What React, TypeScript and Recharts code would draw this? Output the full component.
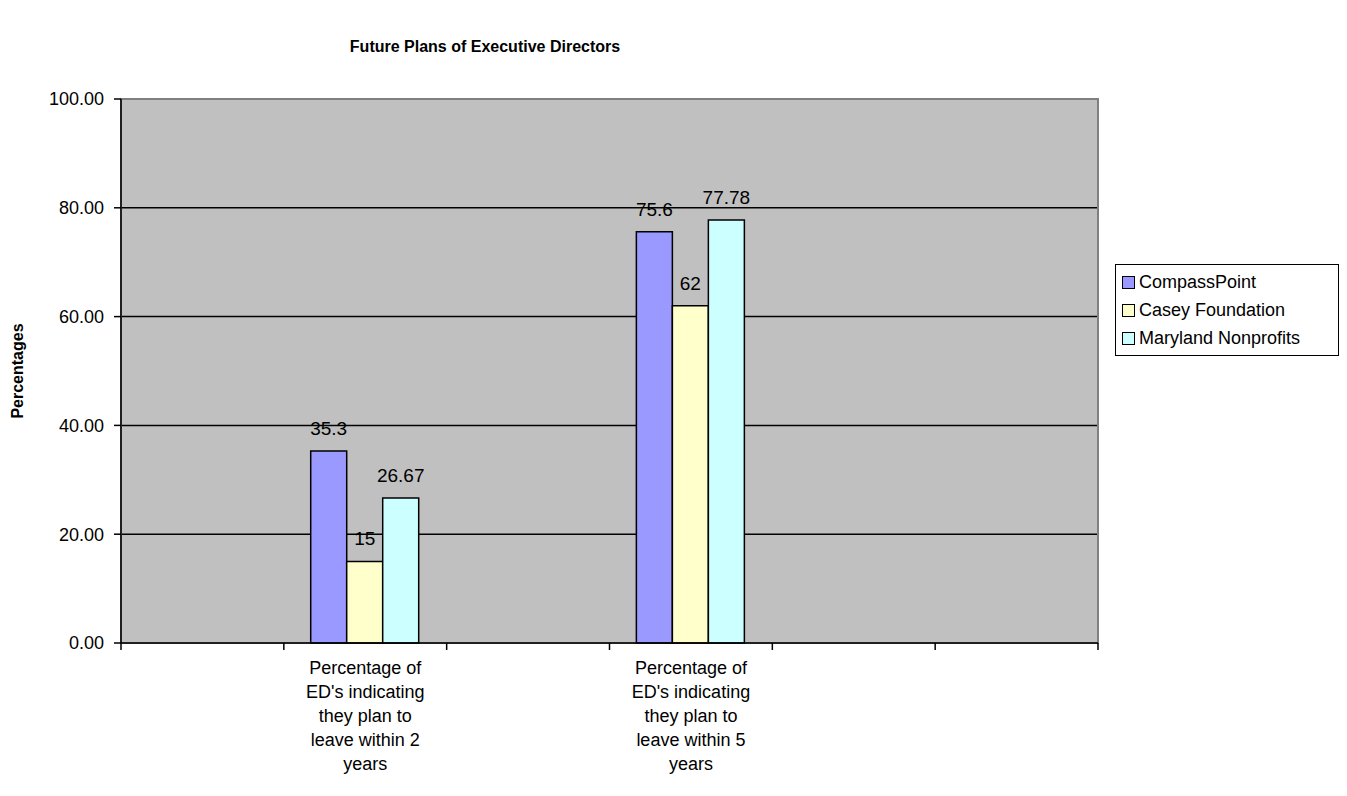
import React from 'react';
import { BarChart, Bar, XAxis, YAxis, CartesianGrid, Legend, LabelList, ReferenceArea } from 'recharts';

const categories = [
  '',
  "Percentage of ED's indicating they plan to leave within 2 years",
  '',
  "Percentage of ED's indicating they plan to leave within 5 years",
  '',
  '',
];
const compassPoint = [null, 35.3, null, 75.6, null, null];
const caseyFoundation = [null, 15, null, 62, null, null];
const marylandNonprofits = [null, 26.67, null, 77.78, null, null];
const seriesNames = ['CompassPoint', 'Casey Foundation', 'Maryland Nonprofits'];
const seriesColors = ['#9999FF', '#FFFFCC', '#CCFFFF'];
const yTicks = [0, 20, 40, 60, 80, 100];

const FONT = '"Liberation Sans", Arial, sans-serif';

const data = categories.map((name, i) => ({
  key: i,
  name,
  cp: compassPoint[i],
  casey: caseyFoundation[i],
  md: marylandNonprofits[i],
}));

// greedy word wrap, excel-ish
function wrap(text: string, max = 15) {
  const words = text.split(' ').filter(Boolean);
  const lines: string[] = [];
  let cur = '';
  for (const w of words) {
    if (!cur) cur = w;
    else if ((cur + ' ' + w).length <= max) cur += ' ' + w;
    else {
      lines.push(cur);
      cur = w;
    }
  }
  if (cur) lines.push(cur);
  return lines;
}

// excel puts the tick marks between categories, so draw them at the band edges
function CategoryTick({ x, y, payload, index, width }: any) {
  const lines = wrap(categories[payload.value] ?? '');
  const half = width / categories.length / 2;
  const isLast = index === categories.length - 1;
  return (
    <g>
      <line x1={x - half} x2={x - half} y1={y} y2={y + 7} stroke="#000" strokeWidth={1.5} />
      {isLast && <line x1={x + half} x2={x + half} y1={y} y2={y + 7} stroke="#000" strokeWidth={1.5} />}
      <text x={x} y={y} textAnchor="middle" fontSize={18} fontFamily={FONT} fill="#000">
        {lines.map((l, i) => (
          <tspan key={i} x={x} dy={i === 0 ? 31 : 24}>
            {l}
          </tspan>
        ))}
      </text>
    </g>
  );
}

function LegendBox() {
  return (
    <div
      style={{
        border: '1px solid #000',
        background: '#fff',
        padding: '3px 6px',
        fontFamily: FONT,
        fontSize: 18,
        color: '#000',
        boxSizing: 'border-box',
        width: 224,
      }}
    >
      {seriesNames.map((n, i) => (
        <div key={n} style={{ display: 'flex', alignItems: 'center', height: 28 }}>
          <span
            style={{
              display: 'inline-block',
              width: 11,
              height: 11,
              background: seriesColors[i],
              border: '1.5px solid #000',
              marginRight: 4,
            }}
          />
          {n}
        </div>
      ))}
    </div>
  );
}

const fmtLabel = (v: any) => (v === null || v === undefined ? '' : String(v));

export default function App() {
  return (
    <div style={{ width: 1331, height: 788, position: 'relative' }}>
      <BarChart
        width={1331}
        height={788}
        data={data}
        margin={{ top: 91, right: 241, left: 0, bottom: 13 }}
        barCategoryGap="16.5%"
        barGap={0}
        style={{ fontFamily: FONT }}
      >
        <text x={477} y={44} textAnchor="middle" fontSize={16} fontWeight="bold" fontFamily={FONT} fill="#000">
          Future Plans of Executive Directors
        </text>
        <text
          x={15}
          y={363}
          transform="rotate(-90 15 363)"
          textAnchor="middle"
          fontSize={16}
          fontWeight="bold"
          fontFamily={FONT}
          fill="#000"
        >
          Percentages
        </text>
        <CartesianGrid vertical={false} stroke="#000" strokeWidth={1.5} fill="#C0C0C0" fillOpacity={1} horizontalValues={[20, 40, 60, 80]} />
        <XAxis xAxisId="edge" type="number" dataKey="key" domain={[0, 6]} hide />
        <XAxis
          xAxisId="cat"
          dataKey="key"
          type="category"
          height={140}
          interval={0}
          tickSize={0}
          tickMargin={0}
          axisLine={{ stroke: '#000', strokeWidth: 1.5 }}
          tickLine={false}
          tick={<CategoryTick />}
        />
        <YAxis
          width={113}
          domain={[0, 100]}
          ticks={yTicks}
          tickFormatter={(v: number) => v.toFixed(2)}
          tickSize={7}
          tickMargin={10}
          axisLine={{ stroke: '#000', strokeWidth: 1.5 }}
          tickLine={{ stroke: '#000', strokeWidth: 1.5 }}
          tick={{ fill: '#000', fontSize: 18, fontFamily: FONT }}
        />
        <ReferenceArea xAxisId="edge" x1={0} x2={6} y1={0} y2={100} fill="none" stroke="#808080" strokeWidth={2} />
        <Legend
          layout="vertical"
          align="center"
          verticalAlign="middle"
          wrapperStyle={{ left: 1107, top: 256, width: 224 }}
          content={<LegendBox />}
        />
        <Bar xAxisId="cat" dataKey="cp" name={seriesNames[0]} fill={seriesColors[0]} stroke="#000" strokeWidth={1.5} isAnimationActive={false}>
          <LabelList dataKey="cp" position="top" offset={16} formatter={fmtLabel} fill="#000" fontSize={19} fontFamily={FONT} />
        </Bar>
        <Bar xAxisId="cat" dataKey="casey" name={seriesNames[1]} fill={seriesColors[1]} stroke="#000" strokeWidth={1.5} isAnimationActive={false}>
          <LabelList dataKey="casey" position="top" offset={16} formatter={fmtLabel} fill="#000" fontSize={19} fontFamily={FONT} />
        </Bar>
        <Bar xAxisId="cat" dataKey="md" name={seriesNames[2]} fill={seriesColors[2]} stroke="#000" strokeWidth={1.5} isAnimationActive={false}>
          <LabelList dataKey="md" position="top" offset={16} formatter={fmtLabel} fill="#000" fontSize={19} fontFamily={FONT} />
        </Bar>
      </BarChart>
    </div>
  );
}
